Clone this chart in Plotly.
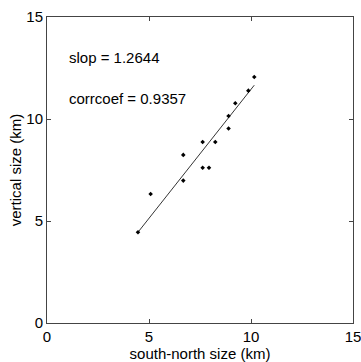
import plotly.graph_objects as go

# data
south_north = [4.46, 5.08, 6.68, 6.68, 7.63, 7.63, 7.94, 8.25, 8.90, 8.90, 9.23, 9.87, 10.16]
vertical = [4.45, 6.32, 8.24, 6.98, 8.87, 7.61, 7.61, 8.87, 10.15, 9.53, 10.77, 11.39, 12.06]
slope = 1.2644
corrcoef = 0.9357
intercept = -1.19
x_ticks = [0, 5, 10, 15]
y_ticks = [0, 5, 10, 15]

fit_x = [min(south_north), max(south_north)]
fit_y = [slope * v + intercept for v in fit_x]

fig = go.Figure()
fig.add_trace(go.Scatter(x=fit_x, y=fit_y, mode="lines",
                         line=dict(color="black", width=0.8), showlegend=False))
fig.add_trace(go.Scatter(x=south_north, y=vertical, mode="markers",
                         marker=dict(color="black", size=3.5, symbol="diamond"),
                         showlegend=False))

font = dict(family="Liberation Sans, Arial, sans-serif", size=15, color="black")
fig.add_annotation(x=1, y=13, xref="x", yref="y", text=f"slop = {slope:.4f}",
                   showarrow=False, xanchor="left", yanchor="middle", font=font)
fig.add_annotation(x=1, y=11, xref="x", yref="y", text=f"corrcoef = {corrcoef:.4f}",
                   showarrow=False, xanchor="left", yanchor="middle", font=font)

axis_common = dict(showgrid=False, zeroline=False, showline=True, linecolor="#444",
                   linewidth=1, mirror="ticks", ticks="inside", ticklen=4,
                   tickcolor="#444", tickfont=font, title_font=font,
                   ticklabeloverflow="allow")
fig.update_xaxes(range=[0, 15], tickvals=x_ticks, title_text="south-north size (km)",
                 title_standoff=1, **axis_common)
fig.update_yaxes(range=[0, 15], tickvals=y_ticks, title_text="vertical size (km)",
                 title_standoff=1, **axis_common)

fig.update_layout(width=361, height=362, margin=dict(l=47, r=8, t=17, b=39, autoexpand=False),
                  plot_bgcolor="white", paper_bgcolor="white", font=font)
fig.write_html("out.html", config={"displayModeBar": False})

with open("out.html", "r", encoding="utf-8") as f:
    html = f.read()
html = html.replace("<head>", "<head><style>html,body{margin:0;padding:0;overflow:hidden;}</style>", 1)
with open("out.html", "w", encoding="utf-8") as f:
    f.write(html)
